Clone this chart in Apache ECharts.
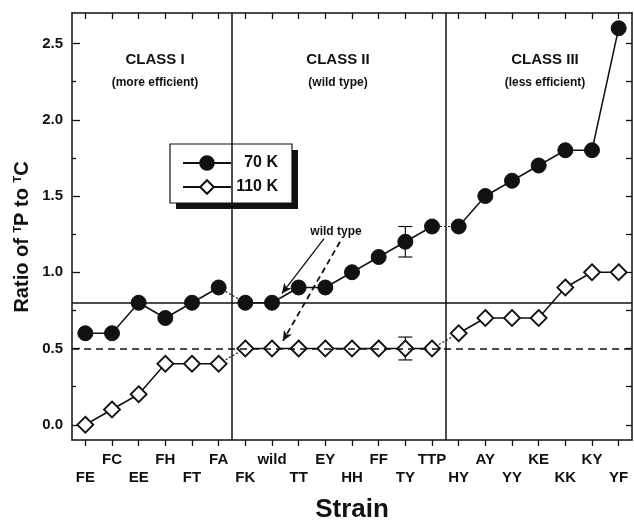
<!doctype html>
<html>
<head>
<meta charset="UTF-8">
<title>Ratio of TP to TC by strain</title>
<script src="https://cdn.jsdelivr.net/npm/echarts@6/dist/echarts.min.js"></script>
</head>
<body style="margin:0;background:#fff">
<div id="main" style="width:634px;height:520px;"></div>
<script>
    // strains in plot order, class II starts at FK, class III at HY
    var strains = ['FE','FC','EE','FH','FT','FA','FK','wild','TT','EY','HH','FF','TY','TTP','HY','AY','YY','KE','KK','KY','YF'];
    var ratio70  = [0.6,0.6,0.8,0.7,0.8,0.9, 0.8,0.8,0.9,0.9,1.0,1.1,1.2,1.3, 1.3,1.5,1.6,1.7,1.8,1.8,2.6];
    var ratio110 = [0.0,0.1,0.2,0.4,0.4,0.4, 0.5,0.5,0.5,0.5,0.5,0.5,0.5,0.5, 0.6,0.7,0.7,0.7,0.9,1.0,1.0];
    var err70  = [0,0,0,0,0,0, 0,0,0,0,0,0,0.1,0, 0,0,0,0,0,0,0];
    var err110 = [0,0,0,0,0,0, 0,0,0,0,0,0,0.075,0, 0,0,0,0,0,0,0];
    var classStarts = [6, 14];
    var wildIdx = 7;
    var yTicks = [0, 0.5, 1.0, 1.5, 2.0, 2.5];
    var yMinor = [0.25, 0.75, 1.25, 1.75, 2.25];

    // annotation arrows (data coords): from the "wild type" text to the wild markers
    var arrowSolid = [[8.95, 1.22], [7.37, 0.86]];
    var arrowDash  = [[9.55, 1.20], [7.41, 0.55]];

    var ink = '#111';
    var font = 'Liberation Sans, Arial, sans-serif';
    var idx = strains.map(function (s, i) { return i; });
    var quarters = [];
    for (var q = 0; q <= 10; q++) quarters.push(q * 0.25);

    // solid line inside each class, gap between classes
    function withBreaks(vals) {
        var out = [];
        vals.forEach(function (v, i) {
            if (classStarts.indexOf(i) >= 0) out.push([i - 0.5, '-']);
            out.push([i, v]);
        });
        return out;
    }
    // dotted joins across class boundaries
    function joins(vals) {
        var out = [];
        classStarts.forEach(function (b) {
            out.push([b - 1, vals[b - 1]], [b, vals[b]], [b + 0.5, '-']);
        });
        return out;
    }
    function errData(vals, errs) {
        var out = [];
        vals.forEach(function (v, i) {
            if (errs[i]) out.push([i, v - errs[i], v + errs[i]]);
        });
        return out;
    }
    function errBar(params, api) {
        var lo = api.coord([api.value(0), api.value(1)]);
        var hi = api.coord([api.value(0), api.value(2)]);
        var w = 7, st = { stroke: ink, lineWidth: 1.2 };
        return {
            type: 'group',
            children: [
                { type: 'line', shape: { x1: lo[0], y1: lo[1], x2: hi[0], y2: hi[1] }, style: st },
                { type: 'line', shape: { x1: lo[0] - w, y1: lo[1], x2: lo[0] + w, y2: lo[1] }, style: st },
                { type: 'line', shape: { x1: hi[0] - w, y1: hi[1], x2: hi[0] + w, y2: hi[1] }, style: st }
            ]
        };
    }

    var axisLine = { show: true, onZero: false, lineStyle: { color: ink, width: 1.5 } };
    var tickStyle = { color: ink, width: 1.3 };

    var myChart = echarts.init(document.getElementById('main'));
    var option = {
        backgroundColor: '#fff',
        animation: false,
        textStyle: { fontFamily: font },
        grid: { left: 72, right: 2, top: 13, bottom: 80, outerBoundsMode: 'none' },
        legend: {
            left: 170, top: 144, orient: 'vertical', z: 6,
            data: ['70 K', '110 K'],
            selectedMode: false,
            padding: [11, 12, 8, 12],
            itemWidth: 48, itemHeight: 17, itemGap: 8,
            formatter: function (n) { return '{t|' + n + '}'; },
            textStyle: { rich: { t: { width: 42, align: 'right', fontSize: 16, fontWeight: 'bold', color: ink, fontFamily: font } } }
        },
        xAxis: [
            {
                type: 'value', min: -0.5, max: 20.5, position: 'bottom',
                axisLine: axisLine, splitLine: { show: false },
                axisTick: { show: true, length: 6, lineStyle: tickStyle, customValues: idx },
                axisLabel: {
                    customValues: idx, margin: 11, color: ink, fontSize: 15, fontWeight: 'bold', lineHeight: 18,
                    formatter: function (v) {
                        var i = Math.round(v);
                        return i % 2 ? strains[i] : '\n' + strains[i];
                    }
                },
                name: 'Strain', nameLocation: 'middle', nameGap: 57,
                nameTextStyle: { fontSize: 26, fontWeight: 'bold', color: ink }
            },
            {
                type: 'value', min: -0.5, max: 20.5, position: 'top',
                axisLine: axisLine, splitLine: { show: false }, axisLabel: { show: false },
                axisTick: { show: true, inside: true, length: 6, lineStyle: tickStyle, customValues: idx }
            }
        ],
        yAxis: [
            {
                type: 'value', min: -0.1, max: 2.7, position: 'left',
                axisLine: axisLine, splitLine: { show: false },
                axisTick: { show: true, inside: true, length: 8, lineStyle: tickStyle, customValues: yTicks },
                axisLabel: {
                    customValues: yTicks, margin: 9, color: ink, fontSize: 15, fontWeight: 'bold',
                    formatter: function (v) { return v.toFixed(1); }
                }
            },
            {
                type: 'value', min: -0.1, max: 2.7, position: 'left',
                axisLine: { show: false, onZero: false }, splitLine: { show: false }, axisLabel: { show: false },
                axisTick: { show: true, inside: true, length: 4, lineStyle: tickStyle, customValues: yMinor }
            },
            {
                type: 'value', min: -0.1, max: 2.7, position: 'right',
                axisLine: axisLine, splitLine: { show: false }, axisLabel: { show: false },
                axisTick: { show: true, inside: true, length: 6, lineStyle: tickStyle, customValues: quarters }
            }
        ],
        graphic: [
            // legend frame with drop shadow
            { type: 'rect', z: 5, shape: { x: 176, y: 150, width: 122, height: 59 }, style: { fill: ink } },
            { type: 'rect', z: 5, shape: { x: 170, y: 144, width: 122, height: 59 }, style: { fill: '#fff', stroke: ink, lineWidth: 1.2 } },
            { type: 'text', x: 155, y: 60, style: { text: 'CLASS I', font: 'bold 15px ' + font, fill: ink, align: 'center', verticalAlign: 'middle' } },
            { type: 'text', x: 155, y: 83, style: { text: '(more efficient)', font: 'bold 12px ' + font, fill: ink, align: 'center', verticalAlign: 'middle' } },
            { type: 'text', x: 338, y: 60, style: { text: 'CLASS II', font: 'bold 15px ' + font, fill: ink, align: 'center', verticalAlign: 'middle' } },
            { type: 'text', x: 338, y: 83, style: { text: '(wild type)', font: 'bold 12px ' + font, fill: ink, align: 'center', verticalAlign: 'middle' } },
            { type: 'text', x: 545, y: 60, style: { text: 'CLASS III', font: 'bold 15px ' + font, fill: ink, align: 'center', verticalAlign: 'middle' } },
            { type: 'text', x: 545, y: 83, style: { text: '(less efficient)', font: 'bold 12px ' + font, fill: ink, align: 'center', verticalAlign: 'middle' } },
            { type: 'text', x: 336, y: 232, style: { text: 'wild type', font: 'bold 12px ' + font, fill: ink, align: 'center', verticalAlign: 'middle' } },
            {
                type: 'text', x: 22, y: 237, rotation: Math.PI / 2,
                style: {
                    text: 'Ratio of {s|T}P to {s|T}C', fill: ink, align: 'center', verticalAlign: 'middle',
                    font: 'bold 20px ' + font,
                    rich: { s: { fontSize: 11, fontWeight: 'bold', fontFamily: font, verticalAlign: 'top', fill: ink } }
                }
            }
        ],
        series: [
            {
                name: '110 K', type: 'line', data: withBreaks(ratio110), z: 4,
                symbol: 'diamond', symbolSize: 16,
                lineStyle: { color: ink, width: 1.5 },
                itemStyle: { color: '#fff', borderColor: ink, borderWidth: 1.8 },
                markLine: {
                    silent: true, symbol: 'none', label: { show: false },
                    data: [
                        { yAxis: ratio70[wildIdx], lineStyle: { color: ink, width: 1.5, type: 'solid' } },
                        { yAxis: ratio110[wildIdx], lineStyle: { color: ink, width: 1.5, type: [7, 5] } }
                    ].concat(classStarts.map(function (b) {
                        return { xAxis: b - 0.5, lineStyle: { color: ink, width: 1.5, type: 'solid' } };
                    }))
                }
            },
            {
                name: '70 K', type: 'line', data: withBreaks(ratio70), z: 4,
                symbol: 'circle', symbolSize: 15,
                lineStyle: { color: ink, width: 1.5 },
                itemStyle: { color: ink, borderColor: ink, borderWidth: 1 },
                markLine: {
                    silent: true, symbol: ['none', 'arrow'], symbolSize: [7, 10], label: { show: false },
                    data: [
                        [{ coord: arrowSolid[0], lineStyle: { color: ink, width: 1.3, type: 'solid' } }, { coord: arrowSolid[1] }],
                        [{ coord: arrowDash[0], lineStyle: { color: ink, width: 1.8, type: [6, 4] } }, { coord: arrowDash[1] }]
                    ]
                }
            },
            {
                type: 'line', data: joins(ratio70), symbol: 'none', z: 3,
                lineStyle: { color: ink, width: 1.2, type: [2, 2] }
            },
            {
                type: 'line', data: joins(ratio110), symbol: 'none', z: 3,
                lineStyle: { color: ink, width: 1.2, type: [2, 2] }
            },
            {
                type: 'custom', renderItem: errBar, data: errData(ratio70, err70),
                encode: { x: 0, y: [1, 2] }, z: 4
            },
            {
                type: 'custom', renderItem: errBar, data: errData(ratio110, err110),
                encode: { x: 0, y: [1, 2] }, z: 4
            }
        ]
    };
    myChart.setOption(option);
</script>
</body>
</html>
